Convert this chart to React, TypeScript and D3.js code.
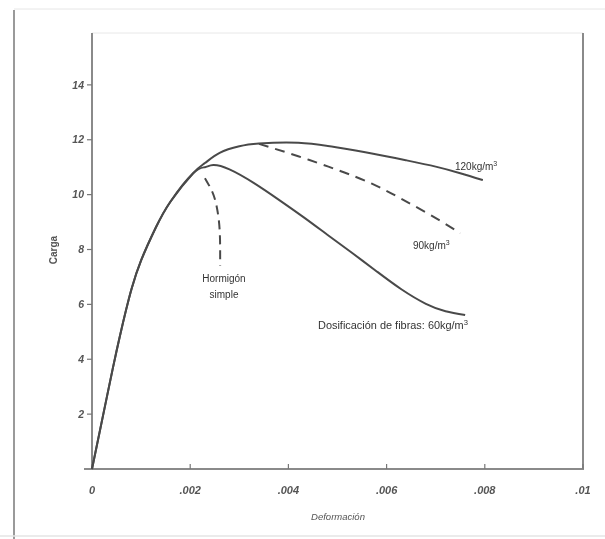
import * as React from "react";
import * as d3 from "d3";

// tick values
const xTicks = [0, 0.002, 0.004, 0.006, 0.008, 0.01];
const xTickLabels = ["0", ".002", ".004", ".006", ".008", ".01"];
const yTicks = [2, 4, 6, 8, 10, 12, 14];

// shared elastic branch (all dosages)
const riseX = [0, 0.0003, 0.0005, 0.00075, 0.001, 0.0013, 0.0016];
const riseY = [0, 2.6, 4.3, 6.2, 7.6, 8.8, 9.75];

// 120 kg/m3
const f120X = [0.00206, 0.0023, 0.0026, 0.003, 0.0034, 0.0042, 0.005, 0.0057, 0.0064, 0.007, 0.0075, 0.00796];
const f120Y = [10.78, 11.15, 11.52, 11.76, 11.86, 11.89, 11.72, 11.5, 11.25, 11.02, 10.78, 10.53];

// 60 kg/m3
const f60X = [0.00206, 0.0023, 0.00247, 0.0028, 0.0033, 0.0038, 0.0043, 0.0048, 0.0053, 0.0058, 0.0063, 0.0068, 0.0072, 0.0076];
const f60Y = [10.78, 11.0, 11.08, 10.92, 10.42, 9.82, 9.19, 8.53, 7.87, 7.2, 6.55, 6.02, 5.75, 5.61];

// 90 kg/m3 (dashed)
const f90X = [0.0034, 0.0042, 0.005, 0.0057, 0.0063, 0.0069, 0.0075];
const f90Y = [11.85, 11.4, 10.9, 10.4, 9.85, 9.25, 8.6];

// hormigon simple (dashed)
const plainX = [0.0023, 0.00245, 0.00254, 0.0026, 0.00261];
const plainY = [10.6, 10.1, 9.56, 8.7, 7.4];

const zip = (xs: number[], ys: number[]) => xs.map((x, i) => [x, ys[i]] as [number, number]);

export default function App() {
  const W = 605, H = 539;
  const x = d3.scaleLinear().domain([0, 0.01]).range([92, 583]);
  const y = d3.scaleLinear().domain([0, 16]).range([469, 30]);

  const line = d3.line<[number, number]>()
    .x(d => x(d[0]))
    .y(d => y(d[1]))
    .curve(d3.curveNatural);

  const rise = zip(riseX, riseY);
  const ink = "#4a4a4a";
  const font = "'Liberation Sans', Arial, sans-serif";

  return (
    <svg width={W} height={H} style={{position: "absolute", left: 0, top: 0, background: "#fff"}}
         fontFamily={font}>
      <defs>
        <filter id="soft" x="-5%" y="-5%" width="110%" height="110%">
          <feGaussianBlur stdDeviation="0.55"/>
        </filter>
      </defs>
      {/* screenshot frame */}
      <line x1={14} y1={10} x2={14} y2={H} stroke="#9a9a9a" strokeWidth={2}/>
      <line x1={14} y1={9} x2={W} y2={9} stroke="#e6e6e6" strokeWidth={1}/>
      <line x1={0} y1={536} x2={W} y2={536} stroke="#e4e4e4" strokeWidth={1.5}/>

      <g filter="url(#soft)">
        {/* plot frame */}
        <line x1={92} y1={33} x2={583} y2={33} stroke="#e8e8e8" strokeWidth={1}/>
        <line x1={92} y1={33} x2={92} y2={469} stroke="#8a8a8a" strokeWidth={2}/>
        <line x1={583} y1={33} x2={583} y2={469} stroke="#8a8a8a" strokeWidth={2}/>
        <line x1={84} y1={469} x2={584} y2={469} stroke="#8a8a8a" strokeWidth={2}/>

        {/* y ticks */}
        {yTicks.map(t => (
          <g key={t}>
            <line x1={87} x2={92} y1={y(t)} y2={y(t)} stroke="#777" strokeWidth={1.2}/>
            <text x={84} y={y(t)} dy="0.35em" textAnchor="end" fontSize={10.5}
                  fontStyle="italic" fontWeight="bold" fill="#555">{t}</text>
          </g>
        ))}
        {/* x ticks */}
        {xTicks.map((t, i) => (
          <g key={t}>
            <line x1={x(t)} x2={x(t)} y1={464} y2={469} stroke="#777" strokeWidth={1.2}/>
            <text x={x(t)} y={490} dy="0.35em" textAnchor="middle" fontSize={11}
                  fontStyle="italic" fontWeight="bold" fill="#555">{xTickLabels[i]}</text>
          </g>
        ))}

        {/* axis titles */}
        <text x={338} y={517} dy="0.35em" textAnchor="middle" fontSize={9.5}
              fontStyle="italic" fill="#555">Deformación</text>
        <text transform="translate(53,250) rotate(-90)" dy="0.35em" textAnchor="middle"
              fontSize={10} fontWeight="bold" fill="#555">Carga</text>

        {/* curves */}
        <path d={line(rise.concat(zip(f120X, f120Y))) || ""} fill="none" stroke={ink} strokeWidth={2}/>
        <path d={line(rise.concat(zip(f60X, f60Y))) || ""} fill="none" stroke={ink} strokeWidth={2}/>
        <path d={line(zip(f90X, f90Y)) || ""} fill="none" stroke={ink} strokeWidth={2}
              strokeDasharray="10 7"/>
        <path d={line(zip(plainX, plainY)) || ""} fill="none" stroke={ink} strokeWidth={2}
              strokeDasharray="9 6"/>

        {/* labels */}
        <text x={455} y={166} dy="0.35em" fontSize={10} fill="#333">120kg/m<tspan dy="-4" fontSize={7}>3</tspan></text>
        <text x={413} y={245} dy="0.35em" fontSize={10} fill="#333">90kg/m<tspan dy="-4" fontSize={7}>3</tspan></text>
        <text x={224} y={278} dy="0.35em" textAnchor="middle" fontSize={10} fill="#333">Hormigón</text>
        <text x={224} y={294} dy="0.35em" textAnchor="middle" fontSize={10} fill="#333">simple</text>
        <text x={318} y={325} dy="0.35em" fontSize={10} fill="#333" textLength={150}
              lengthAdjust="spacingAndGlyphs">Dosificación de fibras: 60kg/m<tspan dy="-4" fontSize={7}>3</tspan></text>
      </g>
    </svg>
  );
}
